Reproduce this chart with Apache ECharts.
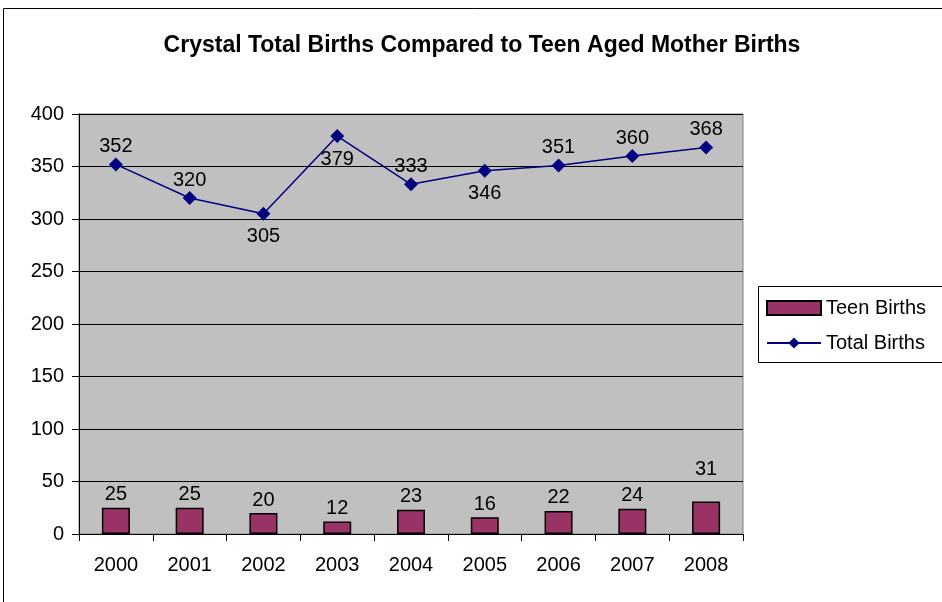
<!DOCTYPE html>
<html><head><meta charset="utf-8">
<script src="https://cdn.jsdelivr.net/npm/echarts@6/dist/echarts.min.js"></script>
<style>html,body{margin:0;padding:0;background:#fff}#c{width:942px;height:602px}</style>
</head><body><div id="c"></div>
<script>
const years = ['2000','2001','2002','2003','2004','2005','2006','2007','2008'];
const teenBirths = [25, 25, 20, 12, 23, 16, 22, 24, 31];
const totalBirths = [352, 320, 305, 379, 333, 346, 351, 360, 368];
const totalLabelPos = ['top','top','bottom','bottom','top','bottom','top','top','top'];

const chart = echarts.init(document.getElementById('c'), null, {renderer:'canvas'});
const font = 'Liberation Sans, Arial, sans-serif';
chart.setOption({
  animation: false,
  backgroundColor: '#fff',
  title: {
    text: 'Crystal Total Births Compared to Teen Aged Mother Births',
    left: 477, top: 29, textAlign: 'center',
    textStyle: {fontFamily: font, fontWeight: 'bold', fontSize: 23, color: '#000'}
  },
  grid: {left: 79, top: 114, width: 664, height: 420, show: true,
         backgroundColor: '#C0C0C0', borderColor: '#808080', borderWidth: 1},
  legend: {
    left: 761, top: 293, orient: 'vertical', itemGap: 15,
    itemWidth: 54, itemHeight: 14,
    textStyle: {fontFamily: font, fontSize: 20, color: '#000'},
    data: [{name: 'Teen Births', icon: 'rect'}, {name: 'Total Births'}]
  },
  graphic: [
    {type: 'rect', shape: {x: 3.5, y: 8.5, width: 960, height: 620}, style: {fill: null, stroke: '#000', lineWidth: 1}, z: -1},
    {type: 'rect', shape: {x: 758.5, y: 286.5, width: 200, height: 76}, style: {fill: null, stroke: '#000', lineWidth: 1}}
  ],
  xAxis: {
    type: 'category', data: years, boundaryGap: true,
    axisLine: {lineStyle: {color: '#000'}},
    axisTick: {show: true, length: 7, inside: false, lineStyle: {color: '#000'}},
    axisLabel: {fontFamily: font, fontSize: 20, color: '#000', margin: 21}
  },
  yAxis: {
    type: 'value', min: 0, max: 400, interval: 50,
    axisLine: {show: true, lineStyle: {color: '#000'}},
    axisTick: {show: true, length: 7, lineStyle: {color: '#000'}},
    axisLabel: {fontFamily: font, fontSize: 20, color: '#000', margin: 15},
    splitLine: {lineStyle: {color: '#000', width: 1}}
  },
  series: [
    {
      name: 'Teen Births', type: 'bar', data: teenBirths.map((v, i) => ({
        value: v, label: i === 8 ? {distance: 22} : {}
      })), barWidth: 28,
      itemStyle: {color: '#993366', borderColor: '#000', borderWidth: 1.5},
      label: {show: true, position: 'top', distance: 3, fontFamily: font, fontSize: 20, color: '#000'}
    },
    {
      name: 'Total Births', type: 'line', data: totalBirths.map((v, i) => ({
        value: v, label: {position: totalLabelPos[i], distance: totalLabelPos[i] === 'top' ? 1 : 6}
      })),
      symbol: 'diamond', symbolSize: 14, color: '#000080',
      lineStyle: {color: '#000080', width: 1.5},
      itemStyle: {color: '#000080'},
      label: {show: true, fontFamily: font, fontSize: 20, color: '#000'}
    }
  ]
});
</script></body></html>
